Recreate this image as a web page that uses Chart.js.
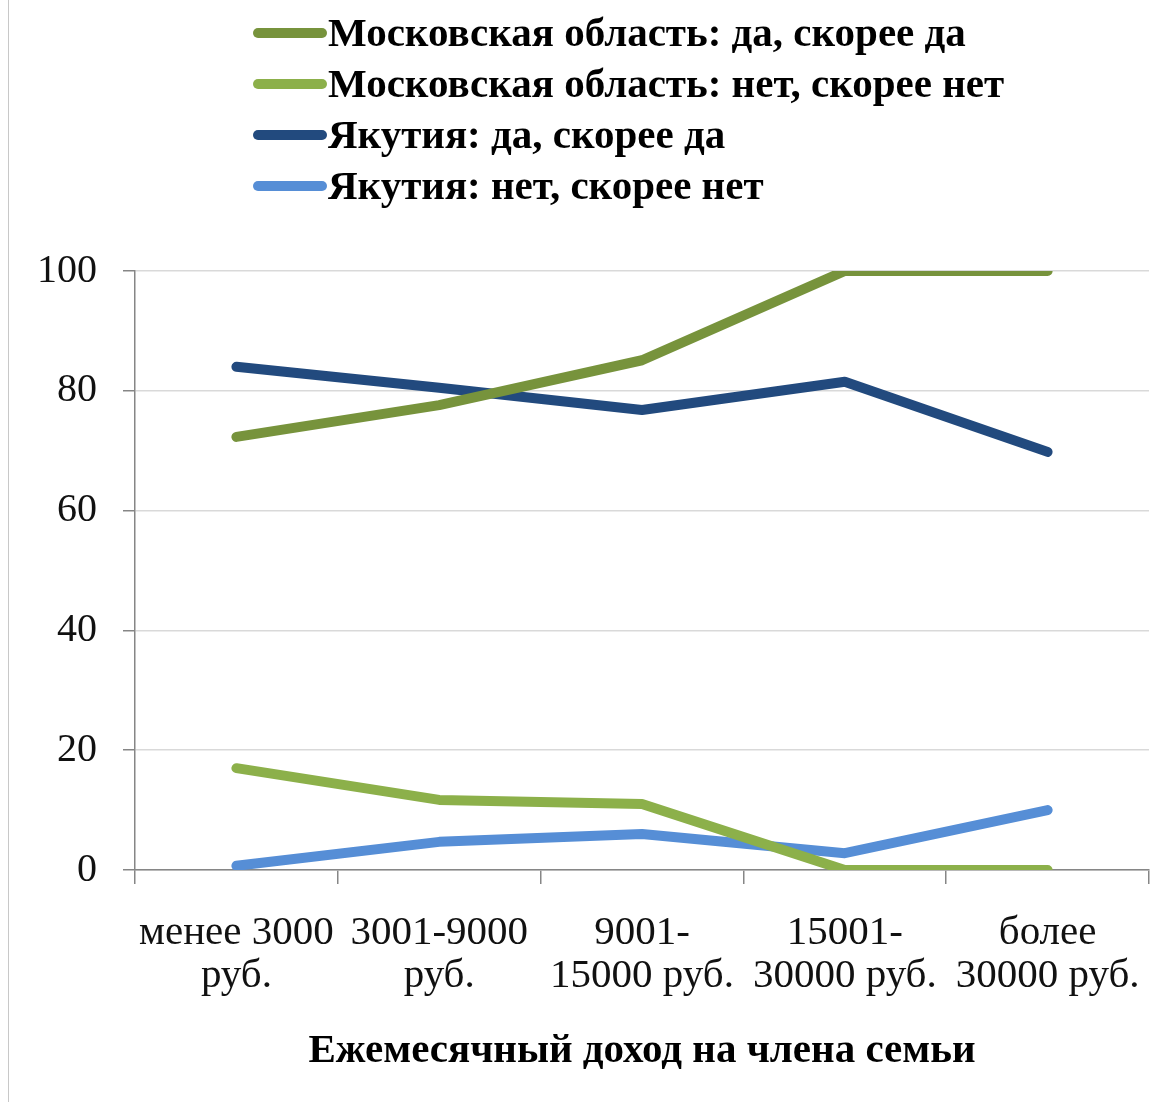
<!DOCTYPE html>
<html>
<head>
<meta charset="utf-8">
<script src="https://cdn.jsdelivr.net/npm/chart.js@4"></script>
<style>
  html, body { margin: 0; padding: 0; background: #fff; }
  #wrap { position: relative; width: 1169px; height: 1102px; }
  #wrap:before { content: ''; position: absolute; left: 8px; top: 0; bottom: 0; border-left: 1px solid #c8c8c8; }
</style>
</head>
<body>
<div id="wrap"><canvas id="chart" width="1169" height="1102"></canvas></div>
<script>
var categories = [
    ['менее 3000', 'руб.'],
    ['3001-9000', 'руб.'],
    ['9001-', '15000 руб.'],
    ['15001-', '30000 руб.'],
    ['более', '30000 руб.']
];
var seriesNames = [
    'Московская область: да, скорее да',
    'Московская область: нет, скорее нет',
    'Якутия: да, скорее да',
    'Якутия: нет, скорее нет'
];
var moscowYes = [72.3, 77.6, 85.1, 100, 100];
var moscowNo = [17.0, 11.7, 11.0, 0, 0];
var yakutiaYes = [84.0, 80.5, 76.8, 81.5, 69.8];
var yakutiaNo = [0.7, 4.7, 6.0, 2.8, 10.0];
var colors = ['#77933C', '#8CB04A', '#224A7E', '#568ED6'];
var xTitle = 'Ежемесячный доход на члена семьи';

var serif = "'Liberation Serif', 'DejaVu Serif', serif";

function makeSet(i, values) {
    return {
        label: seriesNames[i],
        data: values,
        borderColor: colors[i],
        backgroundColor: colors[i],
        borderWidth: 10,
        borderCapStyle: 'round',
        borderJoinStyle: 'round',
        pointRadius: 0,
        tension: 0
    };
}

// legend drawn as a left-aligned column above the plot
var columnLegend = {
    id: 'columnLegend',
    afterDraw: function (chart) {
        var c = chart.ctx;
        c.save();
        c.font = 'bold 41px ' + serif;
        c.textBaseline = 'middle';
        c.textAlign = 'left';
        chart.data.datasets.forEach(function (ds, i) {
            var y = 33 + i * 51;
            c.strokeStyle = ds.borderColor;
            c.lineWidth = 10;
            c.lineCap = 'round';
            c.beginPath();
            c.moveTo(258, y);
            c.lineTo(322, y);
            c.stroke();
            c.fillStyle = '#000';
            c.fillText(ds.label, 328, y + 2);
        });
        c.restore();
    }
};

var ctx = document.getElementById('chart').getContext('2d');
var chart = new Chart(ctx, {
    type: 'line',
    data: {
        labels: categories,
        datasets: [
            makeSet(0, moscowYes),
            makeSet(1, moscowNo),
            makeSet(2, yakutiaYes),
            makeSet(3, yakutiaNo)
        ]
    },
    options: {
        responsive: false,
        animation: false,
        layout: { padding: { top: 271, right: 15, bottom: 14, left: 10 } },
        plugins: {
            legend: { display: false },
            tooltip: { enabled: false }
        },
        scales: {
            x: {
                offset: true,
                grid: {
                    offset: true,
                    drawOnChartArea: false,
                    drawTicks: true,
                    tickLength: 14,
                    color: '#868686',
                    lineWidth: 1.5
                },
                border: { color: '#868686', width: 1.5 },
                ticks: {
                    color: '#111',
                    padding: 28,
                    maxRotation: 0,
                    autoSkip: false,
                    font: { family: serif, size: 41, lineHeight: 1.05 }
                },
                title: {
                    display: true,
                    text: xTitle,
                    color: '#000',
                    font: { family: serif, size: 41, weight: 'bold' },
                    padding: { top: 10, bottom: 12 }
                },
                afterFit: function (scale) { scale.height = 1102 - 870 - 14; }
            },
            y: {
                min: 0,
                max: 100,
                ticks: {
                    stepSize: 20,
                    color: '#111',
                    padding: 26,
                    font: { family: serif, size: 40 }
                },
                grid: {
                    color: '#D9D9D9',
                    lineWidth: 1.5,
                    tickLength: 12,
                    tickColor: '#868686'
                },
                border: { color: '#868686', width: 1.5 },
                afterFit: function (scale) { scale.width = 135 - 10; }
            }
        }
    },
    plugins: [columnLegend]
});
</script>
</body>
</html>
